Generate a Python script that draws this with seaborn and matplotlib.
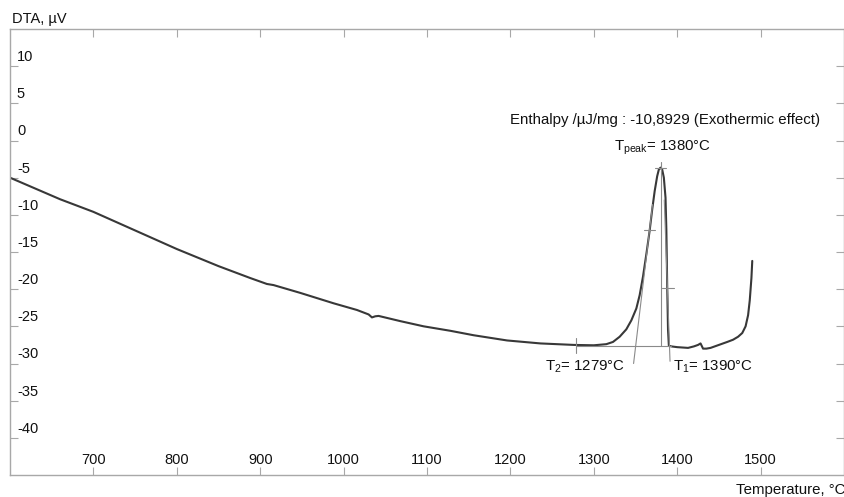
import numpy as np
import pandas as pd
import matplotlib
matplotlib.use("Agg")
import matplotlib.pyplot as plt
import seaborn as sns

# DTA curve
temp = [600, 630, 660, 700, 750, 800, 850, 888, 908, 916, 948, 988, 1016, 1030,
        1034, 1038, 1042, 1068, 1096, 1128, 1156, 1196, 1236, 1276, 1300, 1315,
        1323, 1331, 1339, 1345, 1351, 1355, 1359, 1363, 1367, 1370, 1373, 1376,
        1378, 1380, 1382, 1384, 1386, 1387, 1388, 1389, 1390, 1393, 1400, 1413,
        1420, 1425, 1428, 1431, 1435, 1440, 1450, 1460, 1467, 1473, 1478, 1482,
        1485, 1487, 1489, 1490]
dta = [-5.0, -6.45, -7.9, -9.6, -12.1, -14.6, -16.9, -18.5, -19.3, -19.45, -20.5,
       -21.9, -22.8, -23.4, -23.8, -23.65, -23.6, -24.3, -25.0, -25.6, -26.2, -26.9,
       -27.3, -27.5, -27.55, -27.4, -27.1, -26.4, -25.4, -24.2, -22.6, -20.8, -18.3,
       -15.3, -12.1, -9.3, -6.8, -4.8, -3.9, -3.65, -3.9, -5.0, -7.7, -12.0, -19.5,
       -25.5, -27.6, -27.7, -27.8, -27.9, -27.7, -27.5, -27.3, -28.0, -28.0, -27.9,
       -27.5, -27.1, -26.8, -26.4, -25.9, -25.0, -23.5, -21.5, -18.5, -16.2]

x_ticks = [700, 800, 900, 1000, 1100, 1200, 1300, 1400, 1500]
y_ticks = [10, 5, 0, -5, -10, -15, -20, -25, -30, -35, -40]

# evaluation marks
t_peak, y_peak = 1380, -3.65
t2 = 1279
baseline_y = -27.6
baseline_end = 1393
left_tangent_x = [1370.5, 1347.7]
left_tangent_y = [-8.6, -30.0]
right_tangent_x = [1384.5, 1391.4]
right_tangent_y = [-8.0, -29.7]
left_cross = (1366.7, -12.1)
right_cross = (1388.6, -19.9)

enthalpy_text = "Enthalpy /\u00b5J/mg : -10,8929 (Exothermic effect)"

sns.set_theme(style="white")
plt.rcParams["font.family"] = ["Liberation Sans", "DejaVu Sans"]
plt.rcParams["mathtext.fontset"] = "custom"
plt.rcParams["mathtext.rm"] = "Liberation Sans"

fig = plt.figure(figsize=(8.45, 4.97), dpi=100)
ax = fig.add_axes([10 / 845, 22 / 497, 834 / 845, 446 / 497])

df = pd.DataFrame({"Temperature": temp, "DTA": dta})
sns.lineplot(data=df, x="Temperature", y="DTA", ax=ax, color="#383838",
             linewidth=1.5, estimator=None, sort=False)

ax.set_xlim(600, 1600)
ax.set_ylim(-45, 15)
ax.set_xlabel("")
ax.set_ylabel("")

for s in ax.spines.values():
    s.set_color("#a8a8a8")
    s.set_linewidth(1.0)

ax.set_xticks(x_ticks)
ax.set_yticks(y_ticks)
ax.tick_params(direction="in", length=6, width=0.8, color="#a8a8a8",
               top=True, right=True, bottom=True, left=True,
               labelbottom=False, labelleft=False)

# tick labels sit inside the frame
for v in y_ticks:
    ax.annotate(str(v), xy=(0, v), xycoords=("axes fraction", "data"),
                xytext=(5, 1.5), textcoords="offset points",
                ha="left", va="bottom", fontsize=10.5, color="#111111")
for v in x_ticks:
    ax.annotate(str(v), xy=(v, 0), xycoords=("data", "axes fraction"),
                xytext=(0, 6), textcoords="offset points",
                ha="center", va="bottom", fontsize=10.5, color="#111111")

gray = "#8a8a8a"
lw = 0.8
ax.plot([t2, baseline_end], [baseline_y, baseline_y], color=gray, lw=lw)
ax.plot([t_peak, t_peak], [baseline_y, y_peak], color=gray, lw=lw)
ax.plot(left_tangent_x, left_tangent_y, color=gray, lw=lw)
ax.plot(right_tangent_x, right_tangent_y, color=gray, lw=lw)
# crosses
ax.plot([t_peak - 7, t_peak + 7], [y_peak, y_peak], color=gray, lw=lw)
ax.plot([t_peak, t_peak], [y_peak, y_peak + 0.8], color=gray, lw=lw)
ax.plot([left_cross[0] - 7, left_cross[0] + 7], [left_cross[1]] * 2, color=gray, lw=lw)
ax.plot([right_cross[0] - 7, right_cross[0] + 7], [right_cross[1]] * 2, color=gray, lw=lw)
ax.plot([t2, t2], [baseline_y + 1.0, baseline_y - 1.0], color=gray, lw=lw)

ax.text(1385, 2.7, enthalpy_text, ha="center", va="center", fontsize=10.8,
        color="#111111")
ax.text(1382, -1.3, r"T$_{\rm peak}$= 1380°C", ha="center", va="baseline",
        fontsize=10.8, color="#111111")
ax.text(1241.5, -30.9, r"T$_{\rm 2}$= 1279°C", ha="left", va="baseline",
        fontsize=10.8, color="#111111")
ax.text(1395, -30.9, r"T$_{\rm 1}$= 1390°C", ha="left", va="baseline",
        fontsize=10.8, color="#111111")

fig.text(12 / 845, (497 - 23) / 497, "DTA, \u00b5V", ha="left", va="baseline",
         fontsize=10.5, color="#111111")
fig.text(736 / 845, 3 / 497, "Temperature, °C", ha="left", va="baseline",
         fontsize=10.8, color="#111111")

fig.savefig("out.png", dpi=100)
